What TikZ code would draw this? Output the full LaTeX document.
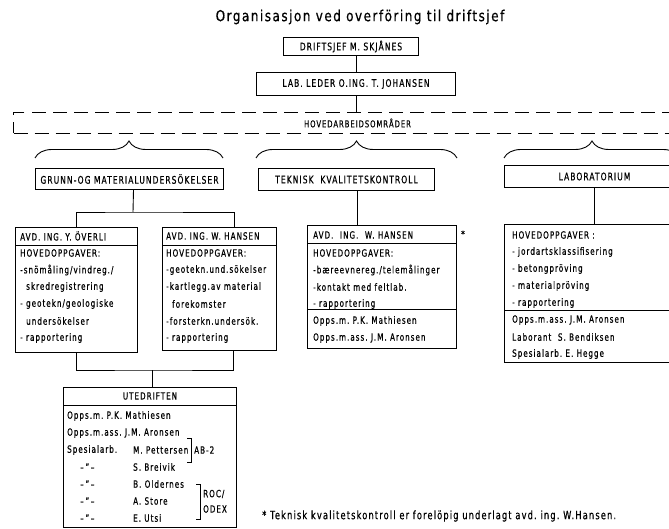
\documentclass[tikz,border=0pt]{standalone}
\usepackage{fontspec}
\setmainfont{DejaVu Sans}[FakeStretch=0.72, LetterSpace=10, FakeBold=0.5]
\newfontfamily\titlefont{DejaVu Sans}[FakeStretch=0.8, LetterSpace=10, FakeBold=0.6]
\usetikzlibrary{decorations.pathreplacing, calc}

\tikzset{
  orgbox/.style={draw, line width=1pt, inner sep=0pt, anchor=north west},
  hdr/.style={font=\fontsize{10.5}{12}\selectfont},
  txt/.style={font=\fontsize{10}{12}\selectfont, inner sep=0pt, anchor=west},
  link/.style={line width=0.9pt},
  bracefig/.style={line width=0.9pt, decorate, decoration={brace, amplitude=17pt}},
}

% one text line per entry, 17pt apart
\newcommand\boxlines[4]{%
  \foreach \t [count=\i from 0] in {#4}
    \node[txt] (#1-\i) at (#2, {#3+17*\i}) {\t};
}

\begin{document}
\begin{tikzpicture}[x=1pt, y=-1pt]
  \useasboundingbox (0,0) rectangle (669,529);
  \clip (0,0) rectangle (669,529);

  \node[font=\titlefont\fontsize{15}{18}\selectfont] (title) at (360,17)
    {Organisasjon ved overföring til driftsjef};

  % ---- top of the chart ----
  \node[orgbox, hdr, minimum width=135pt, minimum height=18pt] (drift) at (283,37)
    {DRIFTSJEF M. SKJÅNES};
  \node[orgbox, hdr, minimum width=199pt, minimum height=23pt] (lableder) at (256,72)
    {LAB. LEDER O.ING. T. JOHANSEN};
  \node[orgbox, dashed, dash pattern=on 14pt off 7pt, font=\fontsize{9.5}{11}\selectfont,
    minimum width=688pt, minimum height=21pt] (hoved) at (13,112) {HOVEDARBEIDSOMRÅDER};

  \draw[link] (drift.south -| lableder.north) -- (lableder.north);
  \draw[link] (lableder.south) -- (lableder.south |- hoved.north);

  % ---- braces ----
  \draw[bracefig] (35,158) -- (223,158);
  \draw[bracefig] (256,158) -- (457,158);
  \draw[bracefig] (504,158) -- (680,158);

  % ---- the three areas ----
  \node[orgbox, hdr, minimum width=188pt, minimum height=21pt] (grunn) at (35,168)
    {GRUNN-OG MATERIALUNDERSÖKELSER};
  \node[orgbox, hdr, minimum width=176pt, minimum height=22pt] (teknisk) at (258,168)
    {TEKNISK\ \ KVALITETSKONTROLL};
  \node[orgbox, hdr, minimum width=180pt, minimum height=22pt] (labhead) at (504,165)
    {LABORATORIUM};

  % ---- department boxes ----
  \node[orgbox, minimum width=122pt, minimum height=125pt] (overli) at (15,227) {};
  \node[orgbox, minimum width=114pt, minimum height=123pt] (hansen) at (162,227) {};
  \node[orgbox, minimum width=149pt, minimum height=123pt] (tekavd) at (307,225) {};
  \node[orgbox, minimum width=180pt, minimum height=138pt] (labbox) at (504,224) {};
  \node[orgbox, minimum width=173pt, minimum height=140pt] (ute) at (63,387) {};

  \draw[link] ([yshift=-18pt]overli.north west) -- ([yshift=-18pt]overli.north east);
  \draw[link] ([yshift=-18pt]hansen.north west) -- ([yshift=-18pt]hansen.north east);
  \draw[link] ([yshift=-18pt]tekavd.north west) -- ([yshift=-18pt]tekavd.north east);
  \draw[link] ([yshift=-84pt]tekavd.north west) -- ([yshift=-84pt]tekavd.north east);
  \draw[link] ([yshift=-86pt]labbox.north west) -- ([yshift=-86pt]labbox.north east);
  \draw[link] ([yshift=-18pt]ute.north west) -- ([yshift=-18pt]ute.north east);

  % ---- connectors ----
  \coordinate (gbar) at (133,212);
  \coordinate (tline) at (357,0);
  \coordinate (ubar) at (152,370);
  \draw[link] ([xshift=4pt]grunn.south) -- (gbar);
  \draw[link] (overli.north) |- (gbar) -| ([xshift=15pt]hansen.north);
  \draw[link] (teknisk.south -| tline) -- (tekavd.north -| tline);
  \draw[link] (labhead.south) -- (labbox.north -| labhead.south);
  \draw[link] (overli.south) |- (ubar) -| ([xshift=14pt]hansen.south);
  \draw[link] (ubar) -- (ute.north -| ubar);

  \node[font=\fontsize{10}{12}\selectfont] (star) at (463,234) {*};

  % ---- box texts ----
  \node[txt] (overli-h) at (20,236) {AVD. ING.\ Y. ÖVERLI};
  \boxlines{ov}{20}{253}{HOVEDOPPGAVER:, -snömåling/vindreg./,
    \hspace*{6pt}skredregistrering, - geotekn/geologiske,
    \hspace*{6pt}undersökelser, - rapportering}

  \node[txt] (hansen-h) at (166,236) {AVD. ING. W. HANSEN};
  \boxlines{ha}{166}{253}{HOVEDOPPGAVER:, -geotekn.und.sökelser,
    -kartlegg.av material, \hspace*{6pt}forekomster,
    -forsterkn.undersök., - rapportering}

  \node[txt] (tekavd-h) at (313,235) {AVD.\ \ ING.\ \ W. HANSEN};
  \boxlines{tk}{313}{253}{HOVEDOPPGAVER:, -bæreevnereg./telemålinger,
    -kontakt med feltlab., - rapportering,
    Opps.m.\ P.K. Mathiesen, Opps.m.ass.\ J.M. Aronsen}

  \boxlines{lb}{512}{235}{HOVEDOPPGAVER :, - jordartsklassifisering,
    - betongpröving, - materialpröving, - rapportering,
    Opps.m.ass.\ J.M. Aronsen, Laborant\ \ S. Bendiksen, Spesialarb.\ E. Hegge}

  \node[font=\fontsize{10}{12}\selectfont] (ute-h) at ([yshift=-9pt]ute.north) {UTEDRIFTEN};
  \boxlines{ut}{67}{416}{Opps.m.\ P.K. Mathiesen, Opps.m.ass.\ J.M. Aronsen, Spesialarb.}
  \boxlines{un}{133}{450}{M. Pettersen, S. Breivik, B. Oldernes, A. Store, E. Utsi}
  \foreach \y [count=\i] in {467,484,501,518}
    \node[txt] (dit-\i) at (80,\y) {--\,"\,--};

  % ---- small brackets ----
  \draw[line width=0.7pt] (187,438) -| (191,462) -- (187,462);
  \node[txt] (ab2) at (194,450) {AB-2};
  \draw[line width=0.7pt] (196,484) -| (200,519) -- (196,519);
  \node[txt] (roc) at (203,494) {ROC/};
  \node[txt] (odex) at (203,509) {ODEX};

  \node[txt, font=\fontsize{11.5}{13}\selectfont] (note) at (262,516)
    {* Teknisk kvalitetskontroll er forelöpig underlagt avd.\ ing.\ W.Hansen.};
\end{tikzpicture}
\end{document}
